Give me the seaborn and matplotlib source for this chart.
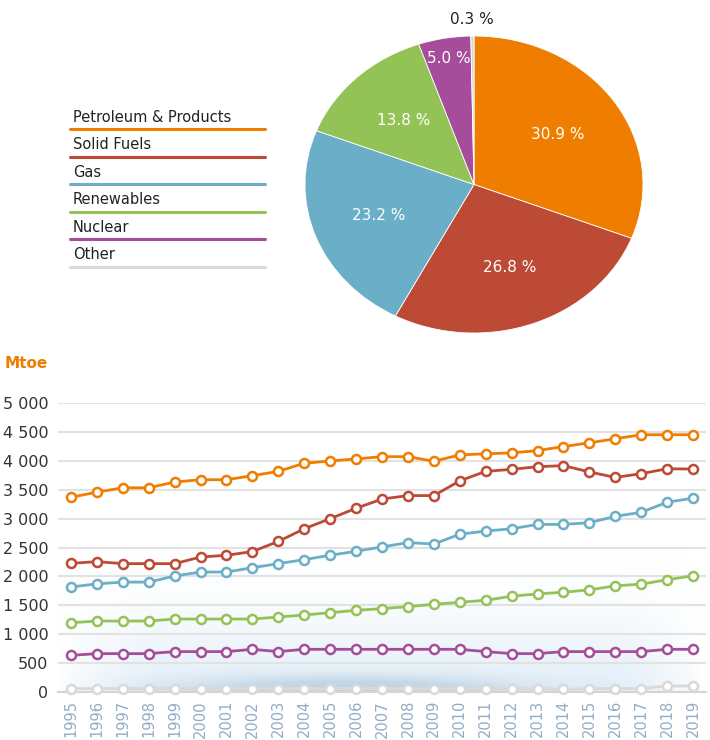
import numpy as np
import pandas as pd
import seaborn as sns
import matplotlib.pyplot as plt
from matplotlib.lines import Line2D
from matplotlib.ticker import FuncFormatter, MultipleLocator

# --- data -------------------------------------------------------------
fuels = ["Petroleum & Products", "Solid Fuels", "Gas", "Renewables", "Nuclear", "Other"]
colors = ["#ef7d00", "#bc4a35", "#6aafc7", "#93c356", "#a54d9a", "#d9d9d9"]
shares = [30.9, 26.8, 23.2, 13.8, 5.0, 0.3]

years = list(range(1995, 2020))
petroleum = [3370, 3460, 3535, 3535, 3635, 3675, 3675, 3745, 3820, 3960, 4000, 4035, 4075,
             4075, 3995, 4105, 4125, 4140, 4180, 4250, 4315, 4385, 4455, 4455, 4455]
solid_fuels = [2225, 2255, 2220, 2220, 2220, 2335, 2365, 2430, 2605, 2825, 3000, 3180, 3340,
               3400, 3400, 3655, 3820, 3855, 3900, 3920, 3810, 3715, 3780, 3865, 3860]
gas = [1815, 1870, 1900, 1900, 2005, 2075, 2075, 2150, 2220, 2290, 2365, 2435, 2510,
       2585, 2560, 2730, 2785, 2825, 2900, 2900, 2930, 3040, 3110, 3285, 3355]
renewables = [1195, 1225, 1225, 1225, 1260, 1260, 1260, 1260, 1295, 1330, 1370, 1410, 1440,
              1475, 1515, 1550, 1585, 1655, 1695, 1725, 1765, 1835, 1865, 1940, 2010]
nuclear = [630, 660, 660, 660, 695, 695, 695, 735, 695, 735, 735, 735, 735,
           735, 735, 735, 695, 660, 660, 695, 695, 695, 695, 735, 735]
other = [55, 55, 55, 55, 55, 55, 55, 55, 55, 55, 55, 55, 55,
         55, 55, 55, 55, 55, 55, 40, 55, 55, 55, 100, 100]

series = [petroleum, solid_fuels, gas, renewables, nuclear, other]
df = pd.DataFrame({
    "year": years * len(fuels),
    "value": sum(series, []),
    "fuel": np.repeat(fuels, len(years)),
})

sns.set_style("white")
plt.rcParams["font.family"] = ["DejaVu Sans"]

W, H = 710, 740
fig = plt.figure(figsize=(W / 100, H / 100), dpi=100)


def box(x0, y0, x1, y1):
    # pixel box (top-left origin) -> figure fraction rect
    return [x0 / W, 1 - y1 / H, (x1 - x0) / W, (y1 - y0) / H]


# --- pie --------------------------------------------------------------
ax_pie = fig.add_axes(box(305, 36, 643, 333))
wedges, _ = ax_pie.pie(shares, colors=colors, startangle=90, counterclock=False,
                       wedgeprops=dict(edgecolor="white", linewidth=0.6))
ax_pie.set_aspect("auto")
ax_pie.set_xlim(-1, 1)
ax_pie.set_ylim(-1, 1)
for w, s in zip(wedges, shares):
    ang = np.deg2rad((w.theta1 + w.theta2) / 2)
    if s < 1:
        r, col = 1.11, "#222222"
    elif s < 8:
        r, col = 0.86, "white"
    else:
        r, col = 0.6, "white"
    ax_pie.text(r * np.cos(ang), r * np.sin(ang), f"{s:.1f} %", ha="center", va="center",
                color=col, fontsize=11, clip_on=False)

# --- legend (text with coloured underline) ------------------------------
for i, (name, c) in enumerate(zip(fuels, colors)):
    ty = 117 + i * 27.6
    fig.text(73 / W, 1 - ty / H, name, fontsize=10.5, color="#222222", va="center", ha="left")
    ly = 1 - (ty + 12) / H
    fig.add_artist(Line2D([70 / W, 265 / W], [ly, ly], color=c, lw=2.2,
                          transform=fig.transFigure))

# --- line chart -------------------------------------------------------
ax = fig.add_axes(box(58, 403.3, 706, 691.7))

# soft blue glow behind the lines
gx = np.linspace(0, 1, 300)
gy = np.linspace(0, 1, 200)
X, Y = np.meshgrid(gx, gy)
win = np.clip(np.minimum(X / 0.15, (1 - X) / 0.12), 0, 1) ** 0.7
glow = 0.55 * np.exp(-(Y / 0.5) ** 2) * win
dark = 0.55 * np.exp(-((X - 0.45) / 0.25) ** 2 - (Y / 0.1) ** 2)
rgba = np.zeros(Y.shape + (4,))
base = np.array([0.82, 0.90, 0.96])
deep = np.array([0.58, 0.69, 0.78])
mix = dark / (glow + dark + 1e-9)
rgba[..., :3] = base * (1 - mix[..., None]) + deep * mix[..., None]
rgba[..., 3] = np.clip(glow + dark, 0, 0.85)
ax.imshow(rgba, extent=(1994.5, 2019.35, 0, 2500), origin="lower", aspect="auto", zorder=0)

sns.lineplot(data=df, x="year", y="value", hue="fuel", hue_order=fuels, palette=colors,
             marker="o", markersize=6.5, markerfacecolor="white", markeredgewidth=1.8,
             linewidth=2.0, legend=False, ax=ax, zorder=3, clip_on=False)
for ln, c in zip(ax.lines, colors):
    ln.set_markeredgecolor(c)

ax.set_xlim(1994.5, 2019.35)
ax.set_ylim(0, 5000)
ax.set_xlabel("")
ax.set_ylabel("")
ax.yaxis.set_major_locator(MultipleLocator(500))
ax.yaxis.set_major_formatter(FuncFormatter(lambda v, p: f"{int(v):,}".replace(",", " ")))
ax.grid(axis="y", color="#e2e2e2", lw=1.5, zorder=1)
ax.set_axisbelow(True)
for s in ["top", "right", "left"]:
    ax.spines[s].set_visible(False)
ax.spines["bottom"].set_color("#d4d4d4")
ax.spines["bottom"].set_linewidth(1.5)
ax.set_xticks(years)
ax.set_xticks([y - 0.5 for y in years] + [2019.5], minor=True)
ax.tick_params(axis="x", which="major", length=0, labelrotation=90, labelsize=10.5,
               labelcolor="#93acc4", pad=6)
ax.tick_params(axis="x", which="minor", length=6, color="#d4d4d4", width=1.2)
ax.tick_params(axis="y", length=0, labelsize=11.5, labelcolor="#333333", pad=7)

fig.text(5 / W, 1 - 363 / H, "Mtoe", fontsize=11, fontweight="bold", color="#ef7d00",
         va="center", ha="left")

fig.savefig("out.png", dpi=100)
